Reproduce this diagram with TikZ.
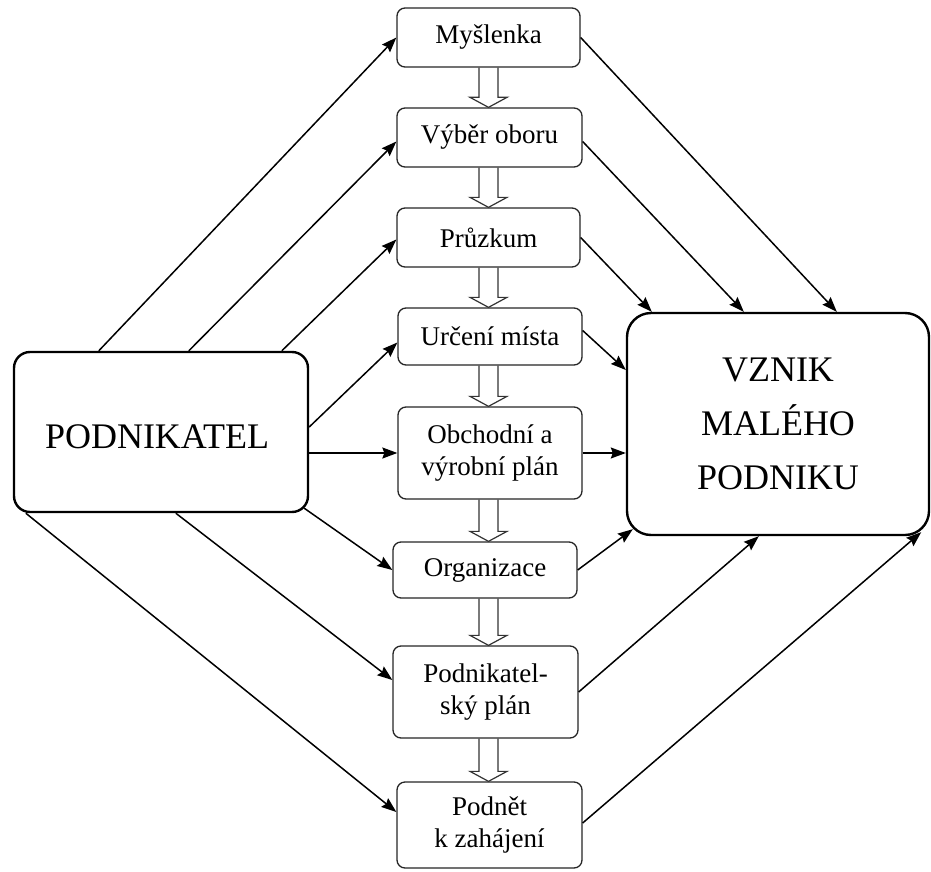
\documentclass[tikz,border=0pt]{standalone}
\usepackage{fontspec}
\setmainfont{Liberation Serif}
\usetikzlibrary{arrows.meta,calc}

% open block arrow pointing from the bottom of one step down to the next
\newcommand\hollowlink[2]{%
  \draw[hollow] let \p1=(#1.south), \p2=(#2.north) in
    (479pt,\y1) -- (479pt,\y2+10pt) -- (470pt,\y2+10pt) -- (488.5pt,\y2)
    -- (507pt,\y2+10pt) -- (498pt,\y2+10pt) -- (498pt,\y1);}

\begin{document}
\begin{tikzpicture}[x=1pt,y=-1pt,
  stepbox/.style={draw=black!85, line width=1.3pt, rounded corners=8pt, fill=white,
    align=center, inner sep=0pt, font=\fontsize{27}{32}\selectfont},
  bigbox/.style={draw=black, line width=2.4pt, fill=white, align=center, inner sep=0pt,
    font=\fontsize{36}{54}\selectfont},
  bigtext/.style={inner sep=0pt, align=center, font=\fontsize{36}{54}\selectfont},
  link/.style={line width=1.5pt, -{Stealth[length=15pt,width=11pt,inset=2pt]}},
  hollow/.style={line width=1.2pt, draw=black!80}]

\useasboundingbox (0,0) rectangle (931,872);

% main actors
\node[bigbox, rounded corners=16pt, minimum width=294pt, minimum height=160pt] (L) at (161,432) {};
\node[bigtext] (Lt) at (157,437) {PODNIKATEL};
\node[bigbox, rounded corners=24pt, minimum width=302pt, minimum height=222pt] (R) at (778,424)
  {VZNIK\\MALÉHO\\PODNIKU};

% the steps in the middle column
\node[stepbox, minimum width=183pt, minimum height=59pt] (m1) at (488.5,37.5) {Myšlenka};
\node[stepbox, minimum width=185pt, minimum height=59pt] (m2) at (489.5,137.5) {Výběr oboru};
\node[stepbox, minimum width=183pt, minimum height=59pt] (m3) at (488.5,237.5) {Průzkum};
\node[stepbox, minimum width=184pt, minimum height=57pt] (m4) at (490,336.5) {Určení místa};
\node[stepbox, minimum width=184pt, minimum height=92pt] (m5) at (490,453) {Obchodní a\\výrobní plán};
\node[stepbox, minimum width=184pt, minimum height=56pt] (m6) at (485,570) {Organizace};
\node[stepbox, minimum width=185pt, minimum height=92pt] (m7) at (485.5,692) {Podnikatel-\\ský plán};
\node[stepbox, minimum width=185pt, minimum height=86pt] (m8) at (489.5,825) {Podnět\\k zahájení};

% sequence of steps
\hollowlink{m1}{m2}
\hollowlink{m2}{m3}
\hollowlink{m3}{m4}
\hollowlink{m4}{m5}
\hollowlink{m5}{m6}
\hollowlink{m6}{m7}
\hollowlink{m7}{m8}

% from the entrepreneur to each step
\draw[link] ([xshift=86pt]L.north west) -- (m1.west);
\draw[link] ([xshift=176pt]L.north west) -- ([yshift=-4pt]m2.west);
\draw[link] ([xshift=269pt]L.north west) -- ([yshift=-2pt]m3.west);
\draw[link] ([yshift=5pt]L.east) -- ([yshift=-6pt]m4.west);
\draw[link] (L.east |- m5.west) -- (m5.west);
\draw[link] ([xshift=-5pt,yshift=5pt]L.south east) -- (m6.west);
\draw[link] ([xshift=163pt]L.south west) -- ([yshift=12pt]m7.west);
\draw[link] ([xshift=13pt]L.south west) -- ([yshift=13pt]m8.west);

% from each step to the new business
\draw[link] (m1.east) -- ([xshift=211pt]R.north west);
\draw[link] ([yshift=-4pt]m2.east) -- ([xshift=118pt]R.north west);
\draw[link] (m3.east) -- ([xshift=26pt]R.north west);
\draw[link] ([yshift=6pt]m4.east) -- ([yshift=54pt]R.west);
\draw[link] (m5.east) -- (m5.east -| R.west);
\draw[link] (m6.east) -- ([xshift=7pt,yshift=7pt]R.south west);
\draw[link] (m7.east) -- ([xshift=133pt]R.south west);
\draw[link] ([yshift=2pt]m8.east) -- ([xshift=-9pt,yshift=4pt]R.south east);

\end{tikzpicture}
\end{document}
